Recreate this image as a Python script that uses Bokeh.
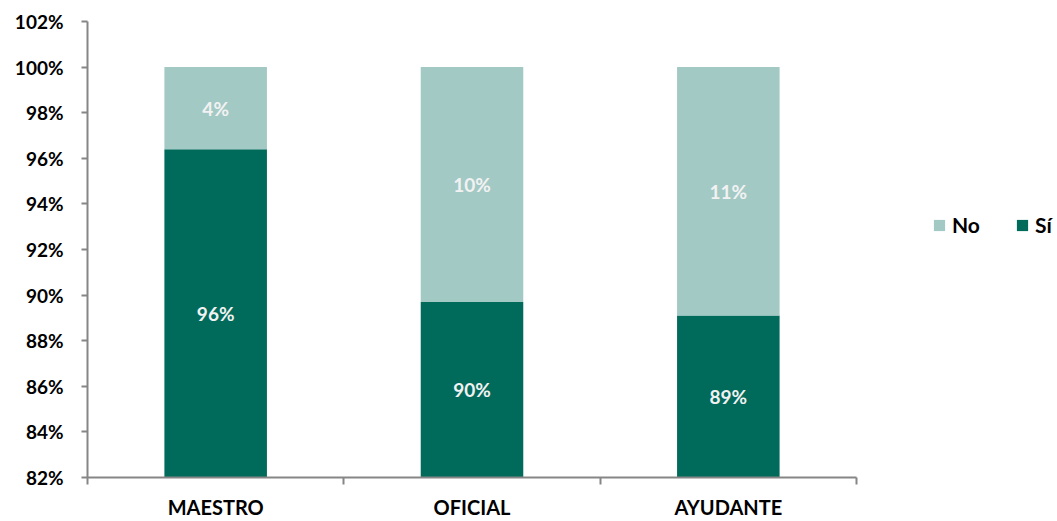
from bokeh.plotting import figure
from bokeh.layouts import row
from bokeh.models import ColumnDataSource, FixedTicker, NumeralTickFormatter, Legend, LegendItem, Range1d
from bokeh.core.properties import value
from bokeh.embed import file_html
from bokeh.resources import INLINE

categories = ["MAESTRO", "OFICIAL", "AYUDANTE"]
si = [0.964, 0.897, 0.891]
no = [0.036, 0.103, 0.109]
y_ticks = [0.82, 0.84, 0.86, 0.88, 0.90, 0.92, 0.94, 0.96, 0.98, 1.00, 1.02]
series = ["No", "Sí"]

Y_MIN, Y_MAX = 0.82, 1.02
DARK = "#006A5B"
LIGHT = "#A3C9C5"
FONT = "Lato"

xc = [i + 0.5 for i in range(len(categories))]
src = ColumnDataSource(dict(
    x=xc, si=si, no=no,
    si_lbl=[f"{round(v*100):.0f}%" for v in si],
    no_lbl=[f"{round(v*100):.0f}%" for v in no],
    si_mid=[(Y_MIN + s) / 2 for s in si],
    no_mid=[s + n / 2 for s, n in zip(si, no)],
))

p = figure(width=870, height=521, output_backend="svg", toolbar_location=None,
           x_range=Range1d(0, len(categories)), y_range=Range1d(Y_MIN, Y_MAX),
           min_border_left=87, min_border_top=21, min_border_bottom=40, min_border_right=14)
p.outline_line_color = None
p.xgrid.visible = False
p.ygrid.visible = False

r = p.vbar_stack(["si", "no"], x="x", width=0.4, source=src, color=[DARK, LIGHT], line_color=None)

p.text(x="x", y="si_mid", text="si_lbl", source=src, text_color="#F2F2F2",
       text_font=value(FONT), text_font_style="bold", text_font_size="19px",
       text_align="center", text_baseline="middle")
p.text(x="x", y="no_mid", text="no_lbl", source=src, text_color="#F2F2F2",
       text_font=value(FONT), text_font_style="bold", text_font_size="19px",
       text_align="center", text_baseline="middle")

AXIS_COLOR = "#868686"
ya = p.yaxis[0]
ya.ticker = FixedTicker(ticks=y_ticks)
ya.formatter = NumeralTickFormatter(format="0%")
ya.axis_line_color = AXIS_COLOR
ya.axis_line_width = 2
ya.major_tick_line_color = AXIS_COLOR
ya.major_tick_line_width = 2
ya.major_tick_out = 6
ya.major_tick_in = 0
ya.minor_tick_line_color = None
ya.major_label_text_font = FONT
ya.major_label_text_font_style = "bold"
ya.major_label_text_font_size = "19px"
ya.major_label_text_color = "black"
ya.major_label_standoff = 18

xa = p.xaxis[0]
xa.ticker = FixedTicker(ticks=xc, minor_ticks=list(range(len(categories) + 1)))
xa.major_label_overrides = {x: c for x, c in zip(xc, categories)}
xa.axis_line_color = AXIS_COLOR
xa.axis_line_width = 2
xa.major_tick_line_color = None
xa.major_tick_out = 6
xa.major_tick_in = 0
xa.minor_tick_line_color = AXIS_COLOR
xa.minor_tick_line_width = 2
xa.minor_tick_out = 7
xa.minor_tick_in = 0
xa.major_label_text_font = FONT
xa.major_label_text_font_style = "bold"
xa.major_label_text_font_size = "20px"
xa.major_label_text_color = "black"
xa.major_label_standoff = 10

# legend panel (swatch glyphs sit outside the visible range; only the legend shows)
p2 = figure(width=187, height=521, output_backend="svg", toolbar_location=None,
            x_range=Range1d(0, 1), y_range=Range1d(0, 1),
            x_axis_location=None, y_axis_location=None,
            min_border=0, outline_line_color=None)
p2.xgrid.visible = False
p2.ygrid.visible = False
q_no = p2.quad(left=[5], right=[6], top=[6], bottom=[5], fill_color=LIGHT, line_color=None)
q_si = p2.quad(left=[5], right=[6], top=[6], bottom=[5], fill_color=DARK, line_color=None)
legend = Legend(items=[LegendItem(label=series[0], renderers=[q_no]),
                       LegendItem(label=series[1], renderers=[q_si])],
                orientation="horizontal", location=(62, 240),
                border_line_color=None, background_fill_alpha=0,
                padding=0, margin=0, spacing=35, glyph_width=14, glyph_height=14,
                label_text_font=FONT, label_text_font_style="bold", label_text_font_size="21px",
                label_text_color="black", label_standoff=6)
p2.add_layout(legend, "center")

open("out.html", "w").write(file_html(row(p, p2), INLINE))
